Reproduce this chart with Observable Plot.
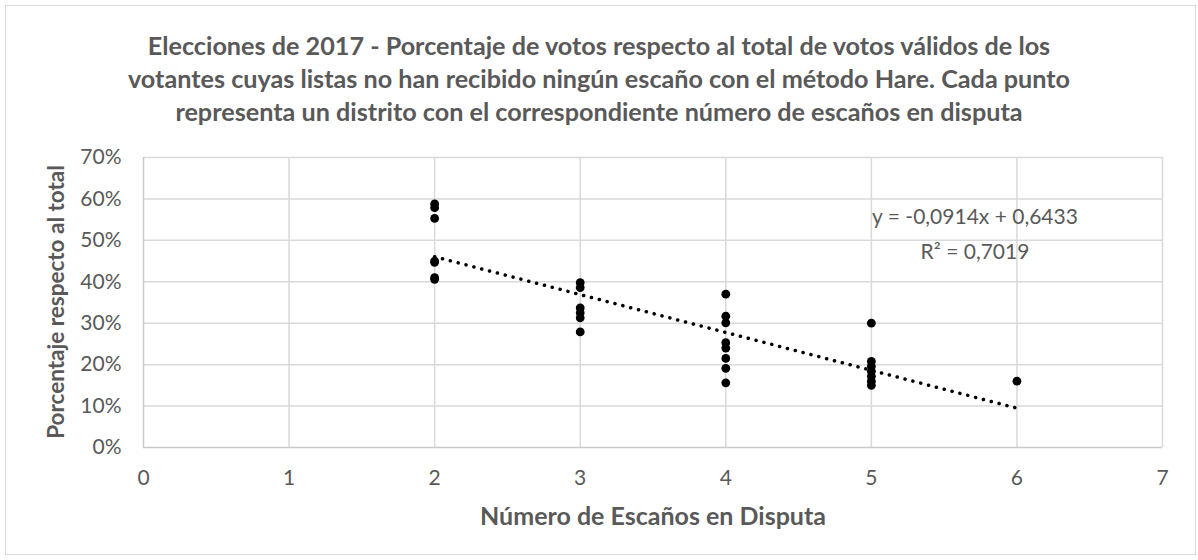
<!DOCTYPE html>
<html>
<head>
<meta charset="utf-8">
<script src="https://cdn.jsdelivr.net/npm/d3@7"></script>
<script src="https://cdn.jsdelivr.net/npm/@observablehq/plot@0.6"></script>
<style>
  html, body { margin: 0; padding: 0; background: #ffffff; }
  #wrap { position: relative; width: 1198px; height: 560px; overflow: hidden; font-family: Lato, "Open Sans", sans-serif; }
  #frame { position: absolute; left: 5px; top: 5px; width: 1189px; height: 548px; border: 1.5px solid #d9d9d9; }
  #title { position: absolute; left: 0; top: 29px; width: 1198px; text-align: center; font-weight: 700; font-size: 25.2px; line-height: 33px; color: #595959; }
  #chart { position: absolute; left: 0; top: 0; }
  #eq { position: absolute; left: 775px; top: 198px; width: 400px; text-align: center; font-size: 21px; line-height: 35px; color: #595959; }
  #ylab { position: absolute; left: 55px; top: 302px; transform: translate(-50%, -50%) rotate(-90deg); white-space: nowrap; font-weight: 700; font-size: 22.5px; color: #595959; }
</style>
</head>
<body>
<div id="wrap">
  <div id="frame"></div>
  <div id="chart"></div>
  <div id="title"></div>
  <div id="eq"></div>
  <div id="ylab"></div>
</div>
<script>
// ---- data ----
const titleLines = [
  "Elecciones de 2017 - Porcentaje de votos respecto al total de votos válidos de los",
  "votantes cuyas listas no han recibido ningún escaño con el método Hare. Cada punto",
  "representa un distrito con el correspondiente número de escaños en disputa"
];
const xLabel = "Número de Escaños en Disputa";
const yLabel = "Porcentaje respecto al total";
const xTicks = [0, 1, 2, 3, 4, 5, 6, 7];
const yTicks = [0, 0.1, 0.2, 0.3, 0.4, 0.5, 0.6, 0.7];

const seats2 = [0.588, 0.579, 0.553, 0.450, 0.447, 0.410, 0.406];
const seats3 = [0.398, 0.386, 0.337, 0.325, 0.313, 0.279];
const seats4 = [0.370, 0.317, 0.301, 0.253, 0.240, 0.215, 0.191, 0.156];
const seats5 = [0.300, 0.208, 0.196, 0.184, 0.172, 0.160, 0.150];
const seats6 = [0.160];

const trendSlope = -0.0914;
const trendIntercept = 0.6433;
const eqLines = ["y = -0,0914x + 0,6433", "R² = 0,7019"];

// ---- build ----
const points = [
  ...seats2.map(v => ({seats: 2, pct: v})),
  ...seats3.map(v => ({seats: 3, pct: v})),
  ...seats4.map(v => ({seats: 4, pct: v})),
  ...seats5.map(v => ({seats: 5, pct: v})),
  ...seats6.map(v => ({seats: 6, pct: v}))
];
const [xmin, xmax] = d3.extent(points, d => d.seats);
const trend = [xmin, xmax].map(x => ({seats: x, pct: trendIntercept + trendSlope * x}));

document.getElementById("title").innerHTML = titleLines.join("<br>");
document.getElementById("eq").innerHTML = eqLines.join("<br>");
document.getElementById("ylab").textContent = yLabel;

const grid = "#d9d9d9";
const textCol = "#595959";

const chart = Plot.plot({
  width: 1198,
  height: 560,
  marginLeft: 143,
  marginRight: 36,
  marginTop: 157,
  marginBottom: 113,
  style: {fontFamily: "Lato, 'Open Sans', sans-serif", fontSize: "20px", color: textCol, background: "transparent", overflow: "visible"},
  x: {domain: [0, 7]},
  y: {domain: [0, 0.7]},
  marks: [
    Plot.gridX(xTicks.filter(d => d !== 0), {stroke: grid, strokeOpacity: 1, strokeWidth: 1.5}),
    Plot.gridY(yTicks.filter(d => d !== 0), {stroke: grid, strokeOpacity: 1, strokeWidth: 1.5}),
    Plot.ruleX([0], {stroke: "#c9c9c9", strokeWidth: 1.5}),
    Plot.ruleY([0], {stroke: "#c9c9c9", strokeWidth: 1.5}),
    Plot.axisX({ticks: xTicks, tickSize: 0, tickPadding: 23, label: null, fontSize: 21, fill: textCol, tickFormat: d3.format("d")}),
    Plot.axisY({ticks: yTicks, tickSize: 0, tickPadding: 22, label: null, fontSize: 21, fill: textCol, tickFormat: d3.format(".0%")}),
    Plot.line(trend, {x: "seats", y: "pct", stroke: "#000", strokeWidth: 3.5, strokeDasharray: "0.1 8", strokeLinecap: "round"}),
    Plot.dot(points, {x: "seats", y: "pct", r: 4.4, fill: "#000", stroke: "none"}),
    Plot.text([xLabel], {frameAnchor: "bottom", dy: 77, text: d => d, fontSize: 25, fontWeight: 700, fill: textCol})
  ]
});
document.getElementById("chart").appendChild(chart);
</script>
</body>
</html>
